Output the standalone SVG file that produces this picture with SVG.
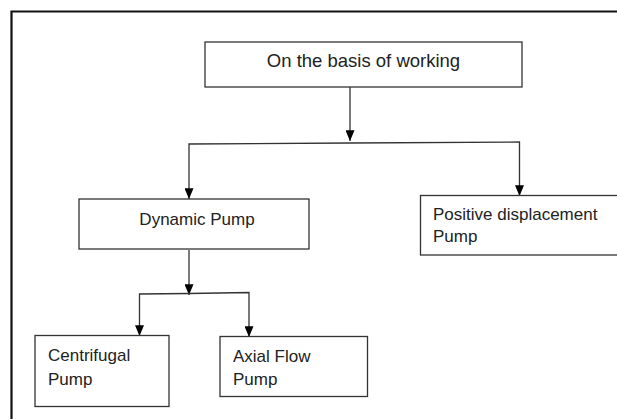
<svg xmlns="http://www.w3.org/2000/svg" width="617" height="419" viewBox="0 0 617 419">
  <defs>
    <marker id="arr" viewBox="0 0 12 10" refX="12" refY="5" markerWidth="11" markerHeight="9" markerUnits="userSpaceOnUse" orient="auto">
      <path d="M0,0 L12,5 L0,10 z" fill="#000"/>
    </marker>
    <style>
      .box { fill: #fff; stroke: #333; stroke-width: 1.3; }
      .lbl { font-family: "Liberation Sans", Arial, sans-serif; font-size: 17px; fill: #222; }
      .con { fill: none; stroke: #333; stroke-width: 1.3; }
      .frame { fill: none; stroke: #111; stroke-width: 2.2; }
    </style>
  </defs>
  <rect width="617" height="419" fill="#fff"/>
  <path class="frame" d="M11.5,430 V11.5 H630"/>

  <g id="connectors">
    <path class="con" d="M350,87 V141" marker-end="url(#arr)"/>
    <path class="con" d="M350,143 L189,144 V199" marker-end="url(#arr)"/>
    <path class="con" d="M350,143 L519.5,142 V196" marker-end="url(#arr)"/>
    <path class="con" d="M189,250 V295" marker-end="url(#arr)"/>
    <path class="con" d="M189,293.5 L139.5,294 V336" marker-end="url(#arr)"/>
    <path class="con" d="M189,293.5 L249,292.5 V337" marker-end="url(#arr)"/>
  </g>

  <g id="root">
    <rect class="box" x="205" y="42" width="317" height="45"/>
    <text class="lbl" x="363.5" y="67" text-anchor="middle" style="font-size:18.5px">On the basis of working</text>
  </g>
  <g id="dynamic">
    <rect class="box" x="79" y="199" width="230" height="50"/>
    <text class="lbl" x="197" y="225" text-anchor="middle">Dynamic Pump</text>
  </g>
  <g id="positive">
    <rect class="box" x="420.5" y="195.5" width="210" height="59.5"/>
    <text class="lbl" x="433" y="220">Positive displacement</text>
    <text class="lbl" x="433" y="242">Pump</text>
  </g>
  <g id="centrifugal">
    <rect class="box" x="35" y="335.5" width="134" height="71"/>
    <text class="lbl" x="48" y="361">Centrifugal</text>
    <text class="lbl" x="48" y="385">Pump</text>
  </g>
  <g id="axial">
    <rect class="box" x="220" y="336.5" width="147.5" height="60"/>
    <text class="lbl" x="233" y="362">Axial Flow</text>
    <text class="lbl" x="233" y="385">Pump</text>
  </g>
</svg>
